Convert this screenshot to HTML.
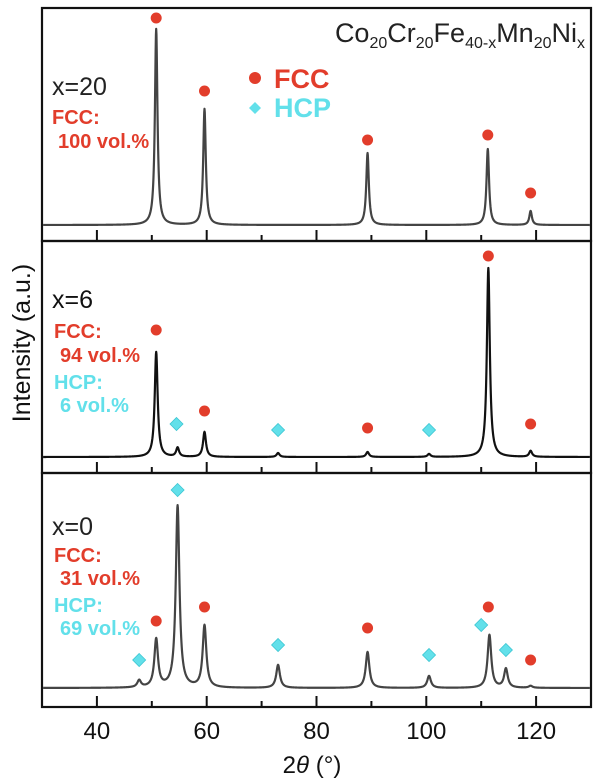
<!DOCTYPE html>
<html><head><meta charset="utf-8"><style>
html,body{margin:0;padding:0;background:#fff;}
svg{display:block;font-family:"Liberation Sans",sans-serif;}
</style></head><body>
<svg id="chart" width="600" height="783" viewBox="0 0 600 783" style="position:absolute;left:0;top:0">
<g id="frames"></g><g id="traces"></g><g id="markers"></g><g id="labels"></g>
</svg>
<script>
// x-axis ticks
const xMajorTicks = [40, 60, 80, 100, 120];
const xMinorTicks = [50, 70, 90, 110];
// panels
const panelNames = ["x=20", "x=6", "x=0"];
// peak positions (2θ) and intensities (a.u., px-equivalent) per panel
const peaks20Pos = [50.8, 59.6, 89.3, 111.2, 119.0];
const peaks20Int = [196, 116, 72, 76, 14];
const peaks6Pos = [50.8, 54.7, 59.6, 73.0, 89.3, 100.5, 111.3, 119.0];
const peaks6Int = [105, 9, 25, 4, 5, 3, 189, 6];
const peaks0Pos = [47.7, 50.8, 54.7, 59.6, 73.0, 89.3, 100.5, 111.5, 114.5, 119.0];
const peaks0Int = [7, 48, 182, 62, 23, 36, 12, 53, 19, 2];
// phase markers: 2θ and height (a.u.) above baseline
const fcc20Pos = [50.8, 59.6, 89.3, 111.2, 119.0];
const fcc20H = [207, 134, 85, 90, 32];
const fcc6Pos = [50.8, 59.6, 89.3, 111.3, 119.0];
const fcc6H = [127, 46, 29, 201, 33];
const hcp6Pos = [54.5, 73.0, 100.5];
const hcp6H = [33, 27, 27];
const fcc0Pos = [50.8, 59.6, 89.3, 111.3, 119.0];
const fcc0H = [67, 81, 60, 81, 28];
const hcp0Pos = [47.7, 54.7, 73.0, 100.5, 110.0, 114.5];
const hcp0H = [28, 198, 43, 33, 63, 38];

const NS = "http://www.w3.org/2000/svg";
const X0 = 42, X1 = 591, D0 = 30, D1 = 130;
function xs(v){ return X0 + (v - D0) / (D1 - D0) * (X1 - X0); }
const panels = [
  {top: 8, bot: 241, base: 225, pos: peaks20Pos, inten: peaks20Int, w: 0.28, color: "#444", fccP: fcc20Pos, fccH: fcc20H, hcpP: [], hcpH: []},
  {top: 241, bot: 473, base: 457, pos: peaks6Pos, inten: peaks6Int, w: 0.32, color: "#111", fccP: fcc6Pos, fccH: fcc6H, hcpP: hcp6Pos, hcpH: hcp6H},
  {top: 473, bot: 707, base: 688, pos: peaks0Pos, inten: peaks0Int, w: 0.4, color: "#444", fccP: fcc0Pos, fccH: fcc0H, hcpP: hcp0Pos, hcpH: hcp0H}
];
function ys(p, v){ return p.base - v; }
function mk(tag, attrs, parent){
  const e = document.createElementNS(NS, tag);
  for (const k in attrs) e.setAttribute(k, attrs[k]);
  parent.appendChild(e); return e;
}
const gF = document.getElementById("frames"), gT = document.getElementById("traces"),
      gM = document.getElementById("markers"), gL = document.getElementById("labels");

panels.forEach((p, i) => {
  const r = mk("rect", {x: X0, y: p.top, width: X1 - X0, height: p.bot - p.top, fill: "none", stroke: "#111", "stroke-width": 2.2}, gF);
  
  
  xMajorTicks.forEach(t => {
    const l = mk("line", {x1: xs(t), x2: xs(t), y1: p.bot, y2: p.bot - 11, stroke: "#111", "stroke-width": 2}, gF);
    
    
  });
  xMinorTicks.forEach(t => {
    const l = mk("line", {x1: xs(t), x2: xs(t), y1: p.bot, y2: p.bot - 6, stroke: "#111", "stroke-width": 2}, gF);
    
    
  });
  let d = "";
  for (let v = 30.2; v <= 129.8; v += 0.05) {
    let s = 0;
    for (let k = 0; k < p.pos.length; k++) {
      const z = (v - p.pos[k]) / p.w;
      s += p.inten[k] / (1 + z * z);
    }
    d += (d ? "L" : "M") + xs(v).toFixed(2) + "," + ys(p, s).toFixed(2);
  }
  const path = mk("path", {d: d, fill: "none", stroke: p.color, "stroke-width": 2.2, "stroke-linejoin": "round"}, gT);
  
  
  p.fccP.forEach((v, k) => {
    const c = mk("circle", {cx: xs(v), cy: ys(p, p.fccH[k]), r: 5.5, fill: "#e23d2b"}, gM);
    
    
  });
  p.hcpP.forEach((v, k) => {
    const cx = xs(v), cy = ys(p, p.hcpH[k]);
    const g = mk("polygon", {points: `${cx},${cy-6.5} ${cx+6.5},${cy} ${cx},${cy+6.5} ${cx-6.5},${cy}`, fill: "#62e0ea", stroke: "#3cc6d2", "stroke-width": 0.8}, gM);
    
    
  });
});

xMajorTicks.forEach(t => {
  const tx = mk("text", {x: xs(t), y: 739, "text-anchor": "middle", "font-size": 24, fill: "#111"}, gL);
  tx.textContent = t;
  
  
});
</script>
<svg width="600" height="783" style="position:absolute;left:0;top:0">
<text x="312" y="773" text-anchor="middle" font-size="24" fill="#111">2<tspan font-style="italic">θ</tspan> (°)</text>
<text transform="translate(30,343) rotate(-90)" text-anchor="middle" font-size="25" fill="#111">Intensity (a.u.)</text>
<text x="585" y="42" text-anchor="end" font-size="27" fill="#222">Co<tspan font-size="16" dy="6">20</tspan><tspan dy="-6">Cr</tspan><tspan font-size="16" dy="6">20</tspan><tspan dy="-6">Fe</tspan><tspan font-size="16" dy="6">40-x</tspan><tspan dy="-6">Mn</tspan><tspan font-size="16" dy="6">20</tspan><tspan dy="-6">Ni</tspan><tspan font-size="16" dy="6">x</tspan></text>
<circle cx="255" cy="78" r="6" fill="#e23d2b"/>
<text x="274" y="88" font-size="27" font-weight="bold" fill="#e23d2b">FCC</text>
<polygon points="255,102 261,108 255,114 249,108" fill="#62e0ea"/>
<text x="274" y="117" font-size="27" font-weight="bold" fill="#62e0ea">HCP</text>
<text x="52" y="95" font-size="25" fill="#222">x=20</text>
<text x="52" y="124" font-size="20" font-weight="bold" fill="#e23d2b">FCC:</text>
<text x="58" y="148" font-size="20" font-weight="bold" fill="#e23d2b">100 vol.%</text>
<text x="52" y="308" font-size="25" fill="#111">x=6</text>
<text x="54" y="338" font-size="20" font-weight="bold" fill="#e23d2b">FCC:</text>
<text x="60" y="362" font-size="20" font-weight="bold" fill="#e23d2b">94 vol.%</text>
<text x="54" y="389" font-size="20" font-weight="bold" fill="#62e0ea">HCP:</text>
<text x="60" y="412" font-size="20" font-weight="bold" fill="#62e0ea">6 vol.%</text>
<text x="52" y="535" font-size="25" fill="#222">x=0</text>
<text x="54" y="562" font-size="20" font-weight="bold" fill="#e23d2b">FCC:</text>
<text x="60" y="585" font-size="20" font-weight="bold" fill="#e23d2b">31 vol.%</text>
<text x="54" y="612" font-size="20" font-weight="bold" fill="#62e0ea">HCP:</text>
<text x="60" y="635" font-size="20" font-weight="bold" fill="#62e0ea">69 vol.%</text>
</svg>
</body></html>
